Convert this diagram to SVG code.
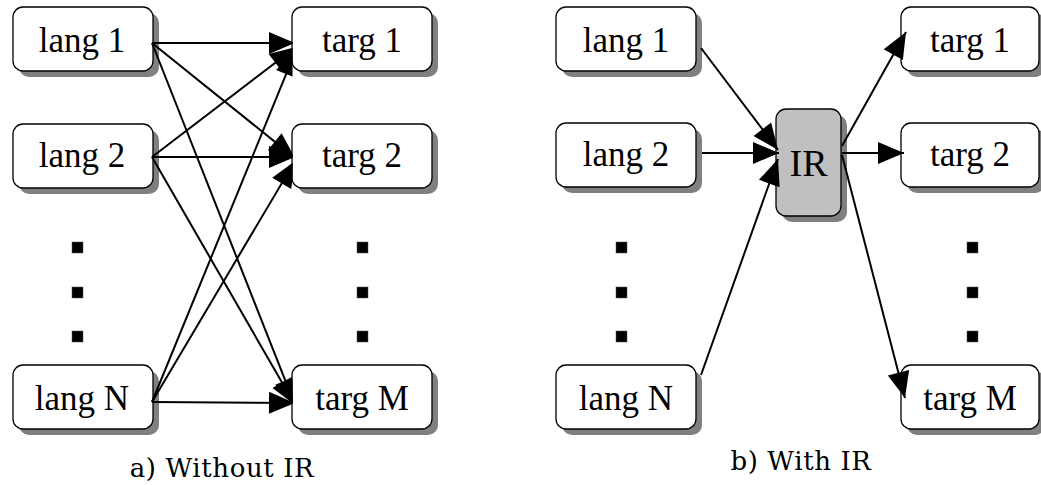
<svg xmlns="http://www.w3.org/2000/svg" width="1041" height="485" viewBox="0 0 1041 485">
  <style>
    .shadow { fill: #808080; stroke: none; }
    .box { fill: #ffffff; stroke: #000000; stroke-width: 1.3; }
    .ir { fill: #c0c0c0; stroke: #000000; stroke-width: 1.3; }
    .label { font-family: "Liberation Serif", "Times New Roman", serif; font-size: 35px; fill: #000000; text-anchor: middle; }
    .caption { font-family: "DejaVu Serif", "Liberation Serif", serif; font-size: 26px; fill: #000000; text-anchor: middle; letter-spacing: 0.6px; }
    .edge { fill: none; stroke: #000000; stroke-width: 2; marker-end: url(#head); }
    .dot { fill: #000000; stroke: #555555; stroke-width: 0.5; }
  </style>
  <defs>
    <marker id="head" markerUnits="userSpaceOnUse" markerWidth="26" markerHeight="22" refX="26" refY="11" orient="auto" overflow="visible">
      <path d="M0,0 L26,11 L0,22 z" fill="#000000"/>
    </marker>
    <!-- arrowheads of panel a) are tucked under the target boxes -->
    <clipPath id="clipA">
      <rect x="0" y="0" width="292.5" height="485"/>
    </clipPath>
  </defs>

  <rect width="1041" height="485" fill="#ffffff"/>

  <!-- ===== panel a) without IR ===== -->
  <g id="a-lang1">
    <rect class="shadow" x="19" y="13" width="140" height="64" rx="10"/>
    <rect class="box" x="13" y="7" width="140" height="64" rx="10"/>
    <text class="label" x="82" y="52">lang 1</text>
  </g>
  <g id="a-lang2">
    <rect class="shadow" x="19" y="130" width="140" height="64" rx="10"/>
    <rect class="box" x="13" y="124" width="140" height="64" rx="10"/>
    <text class="label" x="82" y="167">lang 2</text>
  </g>
  <g id="a-langN">
    <rect class="shadow" x="19" y="371" width="140" height="64" rx="10"/>
    <rect class="box" x="13" y="365" width="140" height="64" rx="10"/>
    <text class="label" x="82" y="410">lang N</text>
  </g>
  <g id="a-targ1">
    <rect class="shadow" x="298" y="13" width="140" height="64" rx="10"/>
    <rect class="box" x="292" y="7" width="140" height="64" rx="10"/>
    <text class="label" x="362" y="52">targ 1</text>
  </g>
  <g id="a-targ2">
    <rect class="shadow" x="298" y="130" width="140" height="64" rx="10"/>
    <rect class="box" x="292" y="124" width="140" height="64" rx="10"/>
    <text class="label" x="362" y="167">targ 2</text>
  </g>
  <g id="a-targM">
    <rect class="shadow" x="298" y="371" width="140" height="64" rx="10"/>
    <rect class="box" x="292" y="365" width="140" height="64" rx="10"/>
    <text class="label" x="362" y="410">targ M</text>
  </g>
  <g id="a-dots">
    <rect class="dot" x="72" y="242" width="11" height="11"/>
    <rect class="dot" x="72" y="287" width="11" height="11"/>
    <rect class="dot" x="72" y="331" width="11" height="11"/>
    <rect class="dot" x="357" y="242" width="11" height="11"/>
    <rect class="dot" x="357" y="287" width="11" height="11"/>
    <rect class="dot" x="357" y="331" width="11" height="11"/>
  </g>

  <!-- ===== panel b) with IR ===== -->
  <g id="b-lang1">
    <rect class="shadow" x="562" y="13" width="140" height="64" rx="10"/>
    <rect class="box" x="556" y="7" width="140" height="64" rx="10"/>
    <text class="label" x="626" y="52">lang 1</text>
  </g>
  <g id="b-lang2">
    <rect class="shadow" x="562" y="129" width="140" height="64" rx="10"/>
    <rect class="box" x="556" y="123" width="140" height="64" rx="10"/>
    <text class="label" x="626" y="166">lang 2</text>
  </g>
  <g id="b-langN">
    <rect class="shadow" x="562" y="371" width="140" height="64" rx="10"/>
    <rect class="box" x="556" y="365" width="140" height="64" rx="10"/>
    <text class="label" x="626" y="410">lang N</text>
  </g>
  <g id="b-ir">
    <rect class="shadow" x="782" y="115" width="65" height="107" rx="10"/>
    <rect class="ir" x="776" y="109" width="65" height="107" rx="10"/>
    <text class="label" x="808.5" y="176" style="font-size: 38px;">IR</text>
  </g>
  <g id="b-targ1">
    <rect class="shadow" x="907" y="13" width="138" height="64" rx="10"/>
    <rect class="box" x="901" y="7" width="138" height="64" rx="10"/>
    <text class="label" x="970" y="52">targ 1</text>
  </g>
  <g id="b-targ2">
    <rect class="shadow" x="907" y="129" width="138" height="64" rx="10"/>
    <rect class="box" x="901" y="123" width="138" height="64" rx="10"/>
    <text class="label" x="970" y="166">targ 2</text>
  </g>
  <g id="b-targM">
    <rect class="shadow" x="907" y="371" width="138" height="64" rx="10"/>
    <rect class="box" x="901" y="365" width="138" height="64" rx="10"/>
    <text class="label" x="970" y="410">targ M</text>
  </g>
  <g id="b-dots">
    <rect class="dot" x="616" y="242" width="11" height="11"/>
    <rect class="dot" x="616" y="287" width="11" height="11"/>
    <rect class="dot" x="616" y="331" width="11" height="11"/>
    <rect class="dot" x="967" y="242" width="11" height="11"/>
    <rect class="dot" x="967" y="287" width="11" height="11"/>
    <rect class="dot" x="967" y="331" width="11" height="11"/>
  </g>

  <!-- ===== connectors ===== -->
  <g id="connectors">
    <g id="a-edges" clip-path="url(#clipA)">
      <line class="edge" x1="152" y1="43" x2="295" y2="43"/>
      <line class="edge" x1="152" y1="43" x2="295" y2="158"/>
      <line class="edge" x1="152" y1="43" x2="295" y2="405"/>
      <line class="edge" x1="152" y1="157" x2="296" y2="47"/>
      <line class="edge" x1="152" y1="157" x2="295" y2="157"/>
      <line class="edge" x1="152" y1="157" x2="295" y2="405"/>
      <line class="edge" x1="152" y1="402" x2="296" y2="50"/>
      <line class="edge" x1="152" y1="402" x2="295" y2="161"/>
      <line class="edge" x1="152" y1="402" x2="295" y2="403"/>
    </g>
    <g id="b-edges">
      <line class="edge" x1="701" y1="48" x2="778" y2="150"/>
      <line class="edge" x1="702" y1="153" x2="779" y2="153"/>
      <line class="edge" x1="701" y1="375" x2="778" y2="159"/>
      <line class="edge" x1="842" y1="146" x2="906" y2="32"/>
      <line class="edge" x1="842" y1="153" x2="904" y2="153"/>
      <line class="edge" x1="842" y1="155" x2="905" y2="398"/>
    </g>
  </g>

  <!-- captions -->
  <text class="caption" x="222" y="477">a) Without IR</text>
  <text class="caption" x="801" y="470">b) With IR</text>
</svg>
